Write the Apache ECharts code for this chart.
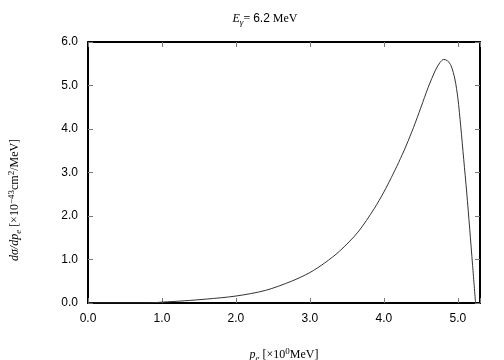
<!DOCTYPE html>
<html>
<head>
<meta charset="UTF-8">
<title>dsigma/dpe</title>
<script src="https://cdn.jsdelivr.net/npm/echarts@6/dist/echarts.min.js"></script>
<style>
    html,body{margin:0;padding:0;background:#fff;}
    #chart{width:504px;height:360px;}
</style>
</head>
<body>
<div id="chart"></div>
<script>
    // electron momentum p_e (MeV) and cross section (1e-43 cm^2/MeV)
    var pe =    [0.0, 0.5, 0.8, 1.0,  1.3,  1.6,  2.0,  2.4,  2.75, 3.0,  3.2,  3.4,  3.65, 3.87, 4.0,  4.1,  4.2,  4.3,  4.4,  4.5,  4.6,  4.7,  4.76, 4.81, 4.86, 4.91, 4.96, 5.0,  5.04, 5.08, 5.12, 5.16, 5.2,  5.24];
    var dsdp =  [0.0, 0.0, 0.0, 0.02, 0.05, 0.09, 0.16, 0.29, 0.50, 0.70, 0.92, 1.19, 1.63, 2.17, 2.55, 2.88, 3.23, 3.61, 4.03, 4.49, 4.96, 5.36, 5.53, 5.60, 5.57, 5.45, 5.15, 4.72, 4.05, 3.30, 2.55, 1.72, 0.86, 0.0];
    var xTicks = ['0.0', '1.0', '2.0', '3.0', '4.0', '5.0'];
    var yTicks = ['0.0', '1.0', '2.0', '3.0', '4.0', '5.0', '6.0'];

    var points = pe.map(function (v, i) { return [v, dsdp[i]]; });
    var serif = 'Liberation Serif';
    var sans = 'Liberation Sans';

    var chart = echarts.init(document.getElementById('chart'));
    var tickStyle = {show: true, inside: true, length: 5, lineStyle: {color: '#777', width: 1}};
    var lineStyle = {show: true, onZero: false, lineStyle: {color: '#000', width: 2}};

    var option = {
        animation: false,
        backgroundColor: '#fff',
        grid: {left: 88, right: 24, top: 42, bottom: 57, outerBoundsMode: 'none', containLabel: false},
        title: {
            text: '{i|E}{s|γ}{n|= }{d|6.2}{n| MeV}',
            left: 260, top: 6, textAlign: 'center',
            textStyle: {
                fontWeight: 'normal',
                rich: {
                    i: {fontFamily: serif, fontStyle: 'italic', fontWeight: 'normal', fontSize: 12, color: '#000'},
                    s: {fontFamily: serif, fontStyle: 'italic', fontWeight: 'normal', fontSize: 9, color: '#000', padding: [7, 0, 0, 0]},
                    n: {fontFamily: serif, fontWeight: 'normal', fontSize: 12, color: '#000'},
                    d: {fontFamily: sans, fontWeight: 'normal', fontSize: 12, color: '#000'}
                }
            }
        },
        xAxis: [{
            type: 'value', min: 0, max: 5.3, interval: 1,
            axisLine: lineStyle, axisTick: tickStyle, splitLine: {show: false},
            axisLabel: {
                margin: 10, fontFamily: sans, fontSize: 12, color: '#000',
                formatter: function (v) {
                    var k = Math.round(v);
                    return Math.abs(v - k) < 1e-6 ? xTicks[k] : '';
                }
            },
            name: '{i|p}{s|e}{n| [×10}{u|0}{n|MeV]}',
            nameLocation: 'middle', nameGap: 44,
            nameTextStyle: {
                rich: {
                    i: {fontFamily: serif, fontStyle: 'italic', fontSize: 12, color: '#000'},
                    s: {fontFamily: serif, fontStyle: 'italic', fontSize: 9, color: '#000', padding: [7, 0, 0, 0]},
                    u: {fontFamily: serif, fontSize: 9, color: '#000', padding: [0, 0, 7, 0]},
                    n: {fontFamily: serif, fontSize: 12, color: '#000'}
                }
            }
        }, {
            type: 'value', min: 0, max: 5.3, interval: 1, position: 'top',
            axisLine: lineStyle, axisTick: tickStyle, axisLabel: {show: false}, splitLine: {show: false}
        }],
        yAxis: [{
            type: 'value', min: 0, max: 6, interval: 1,
            axisLine: lineStyle, axisTick: tickStyle, splitLine: {show: false},
            axisLabel: {
                margin: 10, fontFamily: sans, fontSize: 12, color: '#000',
                formatter: function (v) { return yTicks[Math.round(v)]; }
            }
        }, {
            type: 'value', min: 0, max: 6, interval: 1, position: 'right',
            axisLine: lineStyle, axisTick: tickStyle, axisLabel: {show: false}, splitLine: {show: false}
        }],
        graphic: [{
            type: 'text', x: 15, y: 200, rotation: Math.PI / 2,
            style: {
                text: '{i|dσ/dp}{s|e}{n| [×10}{u|−43}{n|cm}{u|2}{n|/MeV]}',
                align: 'center', verticalAlign: 'middle',
                rich: {
                    i: {fontFamily: serif, fontStyle: 'italic', fontSize: 12, fill: '#000'},
                    s: {fontFamily: serif, fontStyle: 'italic', fontSize: 9, fill: '#000', padding: [7, 0, 0, 0]},
                    u: {fontFamily: serif, fontSize: 9, fill: '#000', padding: [0, 0, 7, 0]},
                    n: {fontFamily: serif, fontSize: 12, fill: '#000'}
                }
            }
        }],
        series: [{
            type: 'line',
            data: points,
            smooth: 0.3,
            showSymbol: false,
            lineStyle: {color: '#333', width: 1},
            z: 1
        }]
    };
    chart.setOption(option);
</script>
</body>
</html>
